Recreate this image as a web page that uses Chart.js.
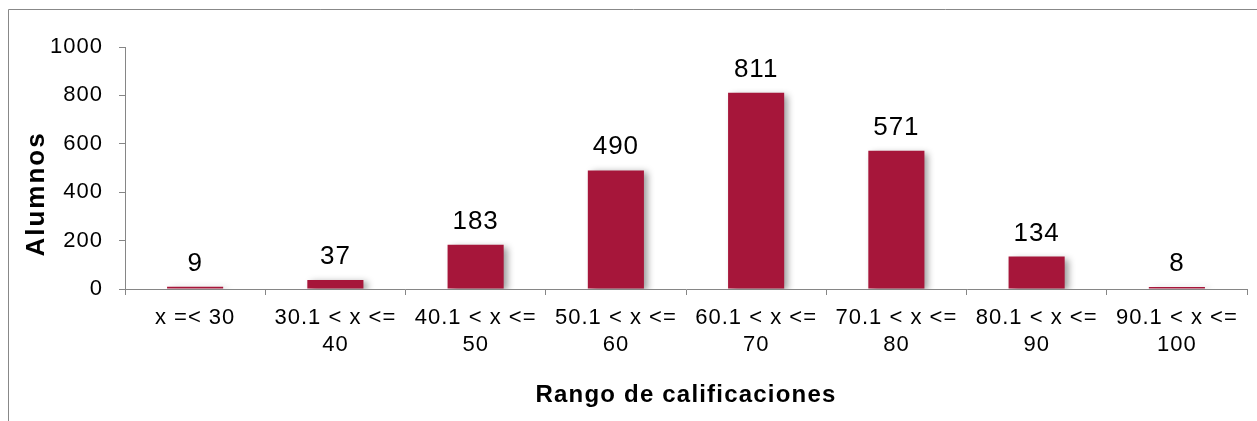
<!DOCTYPE html>
<html>
<head>
<meta charset="utf-8">
<script src="https://cdn.jsdelivr.net/npm/chart.js@4/dist/chart.umd.min.js"></script>
<style>
html,body{margin:0;padding:0;background:#fff;}
#wrap{width:1257px;height:421px;position:relative;}
</style>
</head>
<body>
<div id="wrap"><canvas id="c" width="1257" height="421"></canvas></div>
<script>
const categories = [
  ['x =< 30'],
  ['30.1 < x <=', '40'],
  ['40.1 < x <=', '50'],
  ['50.1 < x <=', '60'],
  ['60.1 < x <=', '70'],
  ['70.1 < x <=', '80'],
  ['80.1 < x <=', '90'],
  ['90.1 < x <=', '100']
];
const alumnos = [9, 37, 183, 490, 811, 571, 134, 8];
const yTicks = [0, 200, 400, 600, 800, 1000];
const xTitle = 'Rango de calificaciones';
const yTitle = 'Alumnos';

const FONT = "'Liberation Sans', Arial, sans-serif";
const AXIS = '#868686';

// slightly wider letter spacing, as in the reference rendering
function spacingFor(font) {
  if (font.indexOf('bold') >= 0) {
    return font.indexOf('26px') >= 0 ? '2px' : '1.2px';
  }
  return '1px';
}
const spacingPlugin = {
  id: 'spacing',
  beforeInit(chart) {
    const ctx = chart.ctx;
    if (!('letterSpacing' in ctx)) return;
    const fill = ctx.fillText.bind(ctx);
    const measure = ctx.measureText.bind(ctx);
    ctx.fillText = function (t, x, y, w) {
      ctx.letterSpacing = spacingFor(ctx.font);
      return w === undefined ? fill(t, x, y) : fill(t, x, y, w);
    };
    ctx.measureText = function (t) {
      ctx.letterSpacing = spacingFor(ctx.font);
      return measure(t);
    };
  }
};

const framePlugin = {
  id: 'frame',
  beforeDraw(chart) {
    const ctx = chart.ctx;
    ctx.save();
    ctx.fillStyle = '#fff';
    ctx.fillRect(0, 0, chart.width, chart.height);
    ctx.strokeStyle = '#888888';
    ctx.lineWidth = 1;
    ctx.beginPath();
    ctx.moveTo(8.5, chart.height + 2);
    ctx.lineTo(8.5, 9.5);
    ctx.lineTo(chart.width + 2, 9.5);
    ctx.stroke();
    ctx.restore();
  }
};

const shadowPlugin = {
  id: 'barShadow',
  beforeDatasetsDraw(chart) {
    const ctx = chart.ctx;
    ctx.save();
    ctx.shadowColor = 'rgba(0,0,0,0.40)';
    ctx.shadowBlur = 7;
    ctx.shadowOffsetX = 4;
    ctx.shadowOffsetY = 2;
  },
  afterDatasetsDraw(chart) {
    chart.ctx.restore();
  }
};

const labelPlugin = {
  id: 'valueLabels',
  afterDatasetsDraw(chart) {
    const ctx = chart.ctx;
    const meta = chart.getDatasetMeta(0);
    const data = chart.data.datasets[0].data;
    ctx.save();
    ctx.fillStyle = '#000';
    ctx.font = '26px ' + FONT;
    ctx.textAlign = 'center';
    ctx.textBaseline = 'alphabetic';
    meta.data.forEach((bar, i) => {
      ctx.fillText(String(data[i]), bar.x, bar.y - 16);
    });
    ctx.restore();
  }
};

// y-axis title, placed lower than the axis centre as in the reference
const yTitlePlugin = {
  id: 'yTitle',
  afterDraw(chart) {
    const ctx = chart.ctx;
    ctx.save();
    ctx.fillStyle = '#000';
    ctx.font = 'bold 26px ' + FONT;
    ctx.textAlign = 'center';
    ctx.textBaseline = 'middle';
    ctx.translate(36, 194);
    ctx.rotate(-Math.PI / 2);
    ctx.fillText(yTitle, 0, 1);
    ctx.restore();
  }
};

new Chart(document.getElementById('c'), {
  type: 'bar',
  data: {
    labels: categories,
    datasets: [{
      data: alumnos,
      backgroundColor: '#A6163A',
      borderWidth: 0,
      barPercentage: 0.4,
      categoryPercentage: 1.0
    }]
  },
  plugins: [spacingPlugin, framePlugin, shadowPlugin, labelPlugin, yTitlePlugin],
  options: {
    responsive: false,
    animation: false,
    devicePixelRatio: 1,
    layout: { padding: { left: 0, top: 47, right: 10, bottom: 0 } },
    plugins: {
      legend: { display: false },
      tooltip: { enabled: false }
    },
    scales: {
      x: {
        afterFit(s) { s.height = 132; },
        grid: {
          display: true,
          drawOnChartArea: false,
          drawTicks: true,
          tickLength: 6,
          tickColor: AXIS,
          offset: true
        },
        border: { display: true, color: AXIS, width: 1 },
        ticks: {
          color: '#000',
          font: { family: FONT, size: 22, lineHeight: 1.2 },
          maxRotation: 0,
          minRotation: 0,
          autoSkip: false,
          padding: 10
        },
        title: {
          display: true,
          text: xTitle,
          color: '#000',
          font: { family: FONT, size: 24, weight: 'bold', lineHeight: 1.2 },
          padding: { top: 0, bottom: 11 }
        }
      },
      y: {
        min: 0,
        max: 1000,
        afterFit(s) { s.width = 125; },
        afterBuildTicks(s) { s.ticks = yTicks.map(v => ({ value: v })); },
        grid: {
          display: true,
          drawOnChartArea: false,
          drawTicks: true,
          tickLength: 6,
          tickColor: AXIS
        },
        border: { display: true, color: AXIS, width: 1 },
        ticks: {
          color: '#000',
          font: { family: FONT, size: 22 },
          padding: 16,
          callback: v => String(v)
        },
        title: { display: false }
      }
    }
  }
});
</script>
</body>
</html>
